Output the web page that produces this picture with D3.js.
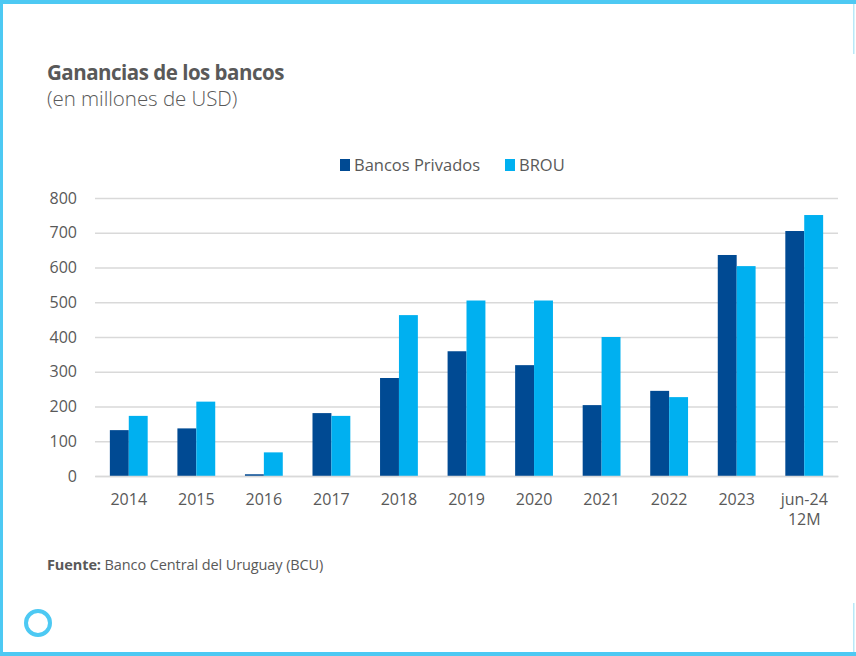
<!DOCTYPE html>
<html>
<head>
<meta charset="utf-8">
<script src="https://cdn.jsdelivr.net/npm/d3@7"></script>
<style>
  body { margin: 0; background: #fff; }
  text { font-family: "Open Sans", sans-serif; fill: #595959; }
</style>
</head>
<body>
<div id="chart"></div>
<script>
// datos
const categorias = ["2014", "2015", "2016", "2017", "2018", "2019", "2020", "2021", "2022", "2023", "jun-24|12M"];
const series = ["Bancos Privados", "BROU"];
const privados = [132, 137, 5, 181, 282, 359, 319, 204, 245, 636, 705];
const brou = [173, 214, 68, 173, 463, 505, 505, 400, 227, 604, 751];
const ticksY = [0, 100, 200, 300, 400, 500, 600, 700, 800];
const colores = ["#004a93", "#00b0f0"];

const width = 856, height = 656;
const svg = d3.select("#chart").append("svg")
    .attr("width", width)
    .attr("height", height);

// marco
const borde = "#4dc9f3";
svg.append("rect").attr("x", 0).attr("y", 0).attr("width", width).attr("height", 4).attr("fill", borde);
svg.append("rect").attr("x", 0).attr("y", 652).attr("width", width).attr("height", 4).attr("fill", borde);
svg.append("rect").attr("x", 0).attr("y", 0).attr("width", 3).attr("height", height).attr("fill", borde);
svg.append("rect").attr("x", 853).attr("y", 4).attr("width", 1.5).attr("height", 50).attr("fill", "#b8e8f8");
svg.append("rect").attr("x", 853).attr("y", 603).attr("width", 1.5).attr("height", 49).attr("fill", "#b8e8f8");
svg.append("circle").attr("cx", 38).attr("cy", 623).attr("r", 12)
    .attr("fill", "none").attr("stroke", borde).attr("stroke-width", 4);

// títulos
svg.append("text").attr("x", 47).attr("y", 80)
    .style("font-size", "20.5px").style("font-weight", "bold")
    .attr("letter-spacing", "-0.5")
    .text("Ganancias de los bancos");
svg.append("text").attr("x", 47).attr("y", 106)
    .style("font-size", "20.5px").style("font-weight", "300")
    .attr("letter-spacing", "-0.05")
    .text("(en millones de USD)");

const margin = { left: 95, right: 18, top: 198, bottom: 180 };
const x = d3.scaleBand().domain(categorias).range([margin.left, width - margin.right]).paddingInner(0.44).paddingOuter(0.22);
const xs = d3.scaleBand().domain(series).range([0, x.bandwidth()]);
const y = d3.scaleLinear().domain([0, 800]).range([476, 198]);

// cuadrícula
svg.append("g")
    .attr("transform", `translate(${margin.left},0)`)
    .call(d3.axisLeft(y).tickValues(ticksY).tickSize(-(width - margin.right - margin.left)).tickFormat(""))
    .call(g => g.select(".domain").remove())
    .call(g => g.selectAll("line").attr("stroke", "#d9d9d9").attr("stroke-width", 1.5));

// etiquetas eje Y
svg.append("g")
    .attr("transform", `translate(${margin.left},0)`)
    .call(d3.axisLeft(y).tickValues(ticksY).tickSize(0).tickPadding(18))
    .call(g => g.select(".domain").remove())
    .call(g => g.selectAll("text").style("font-size", "16px").attr("fill", "#595959").style("font-family", "Open Sans"));

// barras
const datos = categorias.map((c, i) => ({ cat: c, vals: [privados[i], brou[i]] }));
const grupos = svg.append("g").selectAll("g")
    .data(datos)
    .join("g")
    .attr("transform", d => `translate(${x(d.cat)},0)`);
grupos.selectAll("rect")
    .data(d => d.vals.map((v, j) => ({ serie: series[j], v: v, j: j })))
    .join("rect")
    .attr("x", d => xs(d.serie))
    .attr("width", xs.bandwidth())
    .attr("y", d => y(d.v))
    .attr("height", d => y(0) - y(d.v))
    .attr("fill", d => colores[d.j]);

// eje X
const ejeX = svg.append("g")
    .attr("transform", `translate(0,${y(0)})`)
    .call(d3.axisBottom(x).tickSize(0).tickPadding(14).tickFormat(""));
ejeX.select(".domain").attr("stroke", "#d9d9d9").attr("stroke-width", 1.5);
ejeX.selectAll(".tick").each(function (d) {
    const t = d3.select(this).append("text")
        .attr("text-anchor", "middle")
        .style("font-size", "16px")
        .attr("fill", "#595959");
    d.split("|").forEach((l, k) => {
        t.append("tspan").attr("x", 0).attr("y", 29 + k * 20).text(l);
    });
});

// leyenda
const leyenda = svg.append("g").attr("transform", "translate(340,165)");
const posLeyenda = [0, 165];
series.forEach((s, i) => {
    const g = leyenda.append("g").attr("transform", `translate(${posLeyenda[i]},0)`);
    g.append("rect").attr("x", 0).attr("y", -6).attr("width", 10).attr("height", 12).attr("fill", colores[i]);
    g.append("text").attr("x", 14).attr("y", 6).style("font-size", "16.5px").attr("letter-spacing", "0").text(s);
});

// fuente
const fuente = svg.append("text").attr("x", 47).attr("y", 570).style("font-size", "14.5px").attr("letter-spacing", "-0.1");
fuente.append("tspan").style("font-weight", "bold").text("Fuente:");
fuente.append("tspan").text(" Banco Central del Uruguay (BCU)");
</script>
</body>
</html>
